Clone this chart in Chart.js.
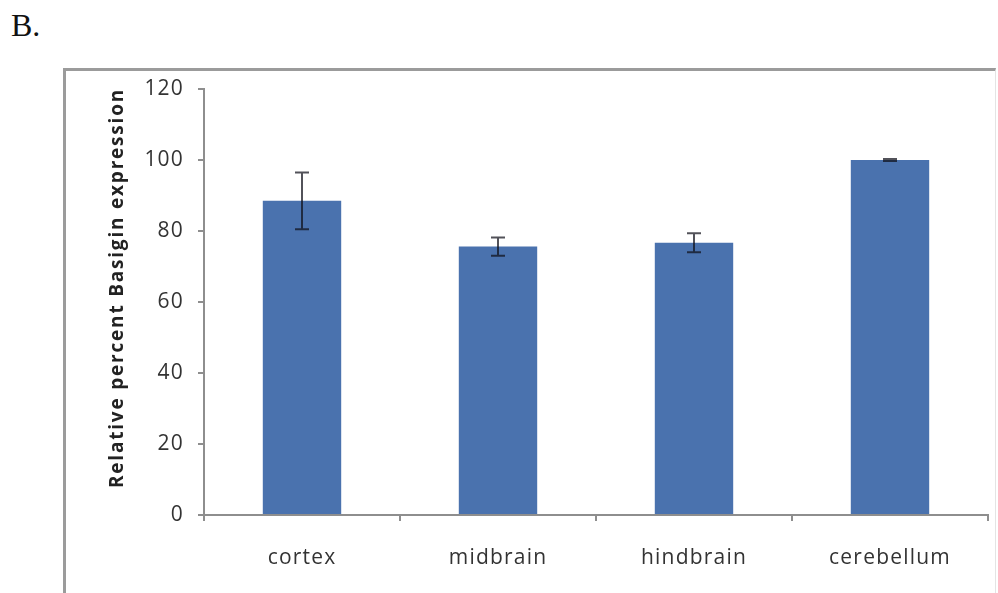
<!DOCTYPE html>
<html>
<head>
<meta charset="utf-8">
<title>Relative percent Basigin expression</title>
<script src="https://cdn.jsdelivr.net/npm/chart.js@4/dist/chart.umd.min.js"></script>
<style>
    html, body { margin: 0; padding: 0; background: #fff; }
    #wrap { position: relative; width: 998px; height: 593px; overflow: hidden; }
    #panel { position: absolute; left: 11px; top: 9px; font: 32px/32px "Liberation Serif", serif; color: #111; }
    #frame { position: absolute; left: 63px; top: 68px; width: 929px; height: 600px;
             border-top: 3px solid #9b9b9b; border-left: 3px solid #9b9b9b; border-right: 1px solid #e4e4e4; }
    #chart { position: absolute; left: 0; top: 0; }
</style>
</head>
<body>
<div id="wrap">
    <div id="panel">B.</div>
    <div id="frame"></div>
    <canvas id="chart" width="998" height="593"></canvas>
</div>
<script>
/*==============================================================
    DATA
==============================================================*/
const regions = ["cortex", "midbrain", "hindbrain", "cerebellum"];
const expression = [88.5, 75.6, 76.7, 100];
const errors = [8, 2.6, 2.7, 0.3];
const yTickValues = [0, 20, 40, 60, 80, 100, 120];
const yTitle = "Relative percent Basigin expression";

/*==============================================================
    ERROR BARS
==============================================================*/
const errorBars = {
    id: "errorBars",
    afterDatasetsDraw(chart) {
        const ctx = chart.ctx;
        const y = chart.scales.y;
        const meta = chart.getDatasetMeta(0);
        ctx.save();
        ctx.strokeStyle = "rgba(15,15,25,0.72)";
        ctx.lineWidth = 2;
        meta.data.forEach(function (bar, i) {
            const hi = y.getPixelForValue(expression[i] + errors[i]);
            const lo = y.getPixelForValue(expression[i] - errors[i]);
            ctx.beginPath();
            ctx.moveTo(bar.x, hi);
            ctx.lineTo(bar.x, lo);
            ctx.moveTo(bar.x - 7, hi);
            ctx.lineTo(bar.x + 7, hi);
            ctx.moveTo(bar.x - 7, lo);
            ctx.lineTo(bar.x + 7, lo);
            ctx.stroke();
        });
        ctx.restore();
    }
};

/*==============================================================
    TEXT (wide Calibri-like lettering, y title sits a bit high)
==============================================================*/
const lettering = {
    id: "lettering",
    beforeDraw(chart) { chart.ctx.letterSpacing = "1.2px"; },
    afterDraw(chart) {
        const ctx = chart.ctx;
        ctx.save();
        ctx.translate(118, 288);
        ctx.rotate(-Math.PI / 2);
        ctx.letterSpacing = "1.8px";
        ctx.font = "bold 19px 'Open Sans'";
        ctx.fillStyle = "#222";
        ctx.textAlign = "center";
        ctx.textBaseline = "middle";
        ctx.fillText(yTitle, 0, 0);
        ctx.restore();
    }
};

/*==============================================================
    CHART
==============================================================*/
function basiginChart() {
    const ctx = document.getElementById("chart");
    const axisGrey = "#8e8e8e";
    const tickFont = { family: "Open Sans", size: 21 };
    new Chart(ctx, {
        type: "bar",
        data: {
            labels: regions,
            datasets: [{
                data: expression,
                backgroundColor: "#4a72ae",
                borderWidth: 0,
                barPercentage: 0.4,
                categoryPercentage: 1
            }]
        },
        options: {
            responsive: false,
            animation: false,
            events: [],
            layout: { padding: { left: 104, top: 89, right: 10, bottom: 0 } },
            plugins: {
                legend: { display: false },
                tooltip: { enabled: false }
            },
            scales: {
                x: {
                    afterFit(s) { s.height = 78; },
                    border: { color: axisGrey, width: 2 },
                    grid: { drawOnChartArea: false, color: axisGrey, lineWidth: 2, tickLength: 6 },
                    ticks: { color: "#333", padding: 24, font: tickFont }
                },
                y: {
                    min: 0,
                    max: 120,
                    afterFit(s) { s.width = 100; },
                    afterBuildTicks(s) { s.ticks = yTickValues.map(v => ({ value: v })); },
                    border: { color: axisGrey, width: 2 },
                    grid: { drawOnChartArea: false, color: axisGrey, lineWidth: 2, tickLength: 6 },
                    ticks: { color: "#333", padding: 14, font: tickFont }
                }
            }
        },
        plugins: [lettering, errorBars]
    });
}

basiginChart();
</script>
</body>
</html>
